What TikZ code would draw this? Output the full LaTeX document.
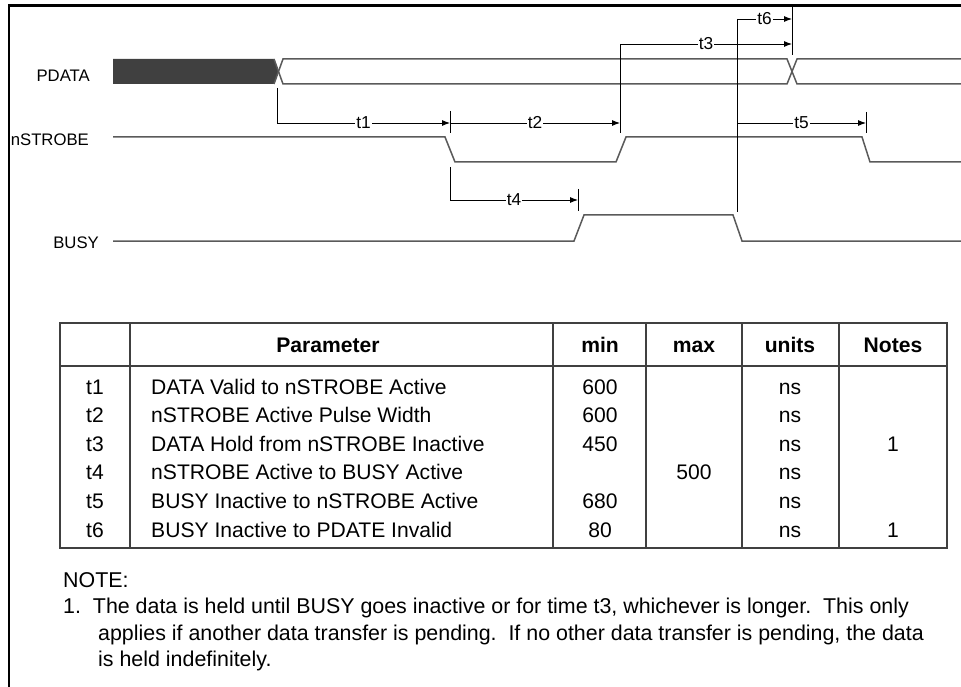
\documentclass[tikz,border=0pt]{standalone}
\usepackage{fontspec}
\setmainfont{Liberation Sans}
\usetikzlibrary{arrows.meta}
\definecolor{sigcol}{HTML}{5A5A5A}
\definecolor{tabcol}{HTML}{404040}
\definecolor{pdark}{HTML}{404040}
\begin{document}
\begin{tikzpicture}[x=1pt,y=-1pt,
  sig/.style={draw=sigcol, line width=1.5pt, line join=miter},
  dim/.style={draw=black, line width=0.9pt},
  dimarr/.style={dim, -{Latex[length=8pt,width=6pt]}},
  tlab/.style={fill=white, inner sep=1.2pt, font=\fontsize{17.3}{20}\selectfont},
  slab/.style={anchor=base east, inner sep=0pt, font=\fontsize{16.7}{20}\selectfont},
  tab/.style={draw=tabcol, line width=1.3pt},
  cell/.style={anchor=base, inner sep=0pt, font=\fontsize{21.1}{24}\selectfont},
  hcell/.style={cell, font=\fontsize{21.1}{24}\selectfont\bfseries},
  pcell/.style={cell, anchor=base west},
  note/.style={anchor=base west, inner sep=0pt, font=\fontsize{21.4}{24}\selectfont}]
\useasboundingbox (0,0) rectangle (961,687);
% frame
\draw[line width=2.5pt] (9,690) -- (9,5.5) -- (965,5.5);
% signal labels
\node[slab] (lpdata) at (90,81.5) {PDATA};
\node[slab] (lstrobe) at (89,145.5) {nSTROBE};
\node[slab] (lbusy) at (99,248.3) {BUSY};
% PDATA bus
\fill[pdark] (113,59) -- (274,59) -- (278.5,71.5) -- (274,84) -- (113,84) -- cycle;
\draw[sig] (274,59) -- (283,84) -- (787,84) -- (797,59) -- (961,59);
\draw[sig] (274,84) -- (283,59) -- (787,59) -- (797,84) -- (961,84);
% nSTROBE
\draw[sig] (113,137) -- (445,137) -- (455,162) -- (616,162) -- (626,137) -- (862,137) -- (870,162) -- (961,162);
% BUSY
\draw[sig] (113,241) -- (574,241) -- (584,215) -- (733,215) -- (742,241) -- (961,241);
% timing coordinates
\coordinate (c1s) at (277,88);
\coordinate (c1e) at (450,123);
\coordinate (k1a) at (450,111);
\coordinate (k1b) at (450,133);
\coordinate (c2e) at (620,123);
\coordinate (v2a) at (620,133);
\coordinate (c3s) at (620,44);
\coordinate (c3e) at (792,44);
\coordinate (k3a) at (792,6);
\coordinate (k3b) at (792,55);
\coordinate (c6s) at (737,19);
\coordinate (c6e) at (792,19);
\coordinate (v6b) at (737,212);
\coordinate (c5s) at (737,123);
\coordinate (c5e) at (866,123);
\coordinate (k5a) at (866,112);
\coordinate (k5b) at (866,133);
\coordinate (c4s) at (450,167);
\coordinate (c4e) at (578,200);
\coordinate (k4a) at (578,189);
\coordinate (k4b) at (578,211);
% timing arrows
\draw[dimarr] (c1s) |- node[tlab,pos=0.75] (t1) {t1} (c1e);
\draw[dim] (k1a) -- (k1b);
\draw[dimarr] (c1e) -- node[tlab] (t2) {t2} (c2e);
\draw[dim] (v2a) -- (c3s);
\draw[dim] (c6s) -- (v6b);
\draw[dimarr] (c3s) -- node[tlab] (t3) {t3} (c3e);
\draw[dim] (k3a) -- (k3b);
\draw[dimarr] (c6s) -- node[tlab] (t6) {t6} (c6e);
\draw[dimarr] (c5s) -- node[tlab] (t5) {t5} (c5e);
\draw[dim] (k5a) -- (k5b);
\draw[dimarr] (c4s) |- node[tlab,pos=0.75] (t4) {t4} (c4e);
\draw[dim] (k4a) -- (k4b);
% table
\draw[tab] (60,323) rectangle (947,548);
\draw[tab] (60,366) -- (947,366);
\foreach \x in {130,553,646,742,839} \draw[tab] (\x,323) -- (\x,548);
\node[hcell] (hpar) at (328,352) {Parameter};
\node[hcell] (hmin) at (600,352) {min};
\node[hcell] (hmax) at (694,352) {max};
\node[hcell] (hun) at (790,352) {units};
\node[hcell] (hnot) at (893,352) {Notes};
\foreach \i/\t/\p/\mn/\mx/\nt in {
  0/t1/DATA Valid to nSTROBE Active/600//,
  1/t2/nSTROBE Active Pulse Width/600//,
  2/t3/DATA Hold from nSTROBE Inactive/450//1,
  3/t4/nSTROBE Active to BUSY Active//500/,
  4/t5/BUSY Inactive to nSTROBE Active/680//,
  5/t6/BUSY Inactive to PDATE Invalid/80//1}{
  \pgfmathsetmacro{\yy}{394+28.6*\i}
  \node[cell] (r\i a) at (95,\yy) {\t};
  \node[pcell] (r\i b) at (151,\yy) {\p};
  \node[cell] (r\i c) at (600,\yy) {\mn};
  \node[cell] (r\i d) at (694,\yy) {\mx};
  \node[cell] (r\i e) at (790,\yy) {ns};
  \node[cell] (r\i f) at (893,\yy) {\nt};
}
% notes
\node[note] (n0) at (63,587) {NOTE:};
\node[note] (n1) at (63,613.5) {1.\ \ The data is held until BUSY goes inactive or for time t3, whichever is longer.\ \ This only};
\node[note] (n2) at (98,640) {applies if another data transfer is pending.\ \ If no other data transfer is pending, the data};
\node[note] (n3) at (98,666.5) {is held indefinitely.};
\end{tikzpicture}
\end{document}
